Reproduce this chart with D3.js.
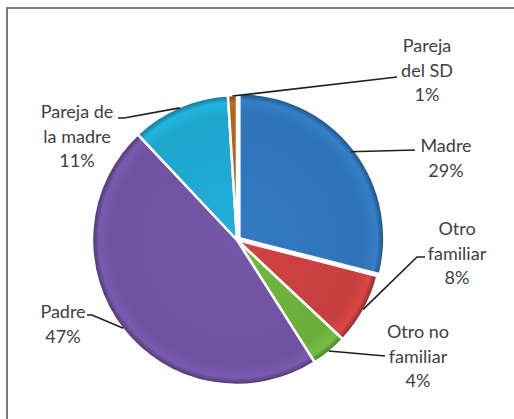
<!DOCTYPE html>
<html lang="es">
<head>
	<meta charset="UTF-8">
	<title>Pie</title>
	<script type="text/javascript" src="https://d3js.org/d3.v7.min.js"></script>
	<style>
		body { margin: 0; background: #fff; }
		svg { display: block; }
		text { font-family: Lato, "Open Sans", sans-serif; font-size: 18px; fill: #404040; }
	</style>
</head>
<body>
	<svg id="chart" width="514" height="419"></svg>

	<script>
		// data
		var categories = ["Madre", "Otro familiar", "Otro no familiar", "Padre", "Pareja de la madre", "Pareja del SD"];
		var values = [29, 8, 4, 47, 11, 1];
		var labelLines = [["Madre"], ["Otro", "familiar"], ["Otro no", "familiar"], ["Padre"], ["Pareja de", "la madre"], ["Pareja", "del SD"]];
		var colours = ["#2f74b8", "#c73f3f", "#6cad3b", "#6f52a0", "#1ea6cd", "#b5601c"];

		// layout of labels: text centre x, first baseline y, leader points
		var labelPos = [
			{x: 446, y: 152, leader: [[415, 150]]},
			{x: 457, y: 235, leader: [[417, 257], [425, 257]]},
			{x: 418, y: 338, leader: [[385, 356]]},
			{x: 63, y: 318, leader: [[92, 315], [87, 315]]},
			{x: 77, y: 118, leader: [[124, 118], [118, 118]]},
			{x: 427, y: 52, leader: [[397, 77]]}
		];

		var cx = 237, cy = 240, r = 145;
		var svg = d3.select("#chart");

		// frame
		svg.append("path")
			.attr("d", "M7,419V8H514")
			.attr("fill", "none")
			.attr("stroke", "#7a7a7a")
			.attr("stroke-width", 2);

		var pie = d3.pie().sort(null).value(function(d) {return d});
		var arcs = pie(values);
		var arc = d3.arc().innerRadius(0).outerRadius(r);
		var explode = [3, 0, 0, 0, 0, 0];

		var defs = svg.append("defs");
		arcs.forEach(function(a, i) {
			var base = d3.color(colours[i]);
			var g = defs.append("radialGradient")
				.attr("id", "g" + i)
				.attr("gradientUnits", "userSpaceOnUse")
				.attr("cx", 0).attr("cy", 0).attr("r", r);
			g.append("stop").attr("offset", 0).attr("stop-color", base.brighter(0.15));
			g.append("stop").attr("offset", 0.86).attr("stop-color", base);
			g.append("stop").attr("offset", 0.95).attr("stop-color", base.brighter(0.25));
			g.append("stop").attr("offset", 1).attr("stop-color", base.darker(1.2));
		});

		var slices = svg.selectAll("g.slice").data(arcs).enter().append("g")
			.attr("class", "slice")
			.attr("transform", function(d, i) {
				var mid = (d.startAngle + d.endAngle) / 2;
				return "translate(" + (cx + explode[i] * Math.sin(mid)) + "," + (cy - explode[i] * Math.cos(mid)) + ")";
			});

		slices.append("path")
			.attr("d", arc)
			.attr("fill", function(d, i) {return "url(#g" + i + ")"})
			.attr("stroke", "#fff")
			.attr("stroke-width", 2.5)
			.attr("stroke-linejoin", "round");

		// leader lines
		arcs.forEach(function(d, i) {
			var mid = (d.startAngle + d.endAngle) / 2;
			var pts = [[cx + (r - 1) * Math.sin(mid), cy - (r - 1) * Math.cos(mid)]].concat(labelPos[i].leader);
			svg.append("path")
				.attr("d", d3.line()(pts))
				.attr("fill", "none")
				.attr("stroke", "#1e1e1e")
				.attr("stroke-width", 1.6);
		});

		// labels
		arcs.forEach(function(d, i) {
			var lines = labelLines[i].concat([values[i] + "%"]);
			var t = svg.append("text")
				.attr("text-anchor", "middle")
				.attr("x", labelPos[i].x)
				.attr("y", labelPos[i].y);
			lines.forEach(function(s, k) {
				t.append("tspan")
					.attr("x", labelPos[i].x)
					.attr("dy", k == 0 ? 0 : 24.5)
					.text(s);
			});
		});
	</script>
</body>
</html>
